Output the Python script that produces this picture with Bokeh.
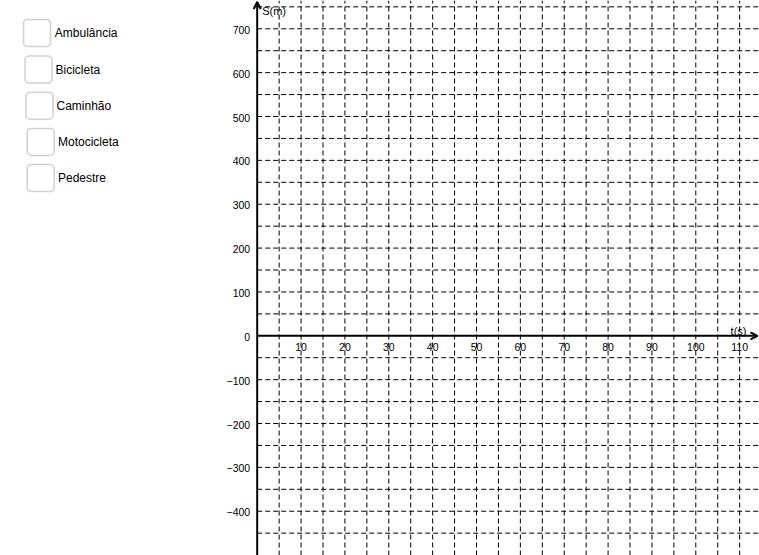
import numpy as np
from bokeh.plotting import figure
from bokeh.models import Range1d, BoxAnnotation, Arrow, OpenHead
from bokeh.embed import file_html
from bokeh.resources import INLINE
from bokeh.core.properties import value

# ---------------- data ----------------
vehicles = ["Ambulância", "Bicicleta", "Caminhão", "Motocicleta", "Pedestre"]
t_ticks = [10, 20, 30, 40, 50, 60, 70, 80, 90, 100, 110]
t_tick_labels = ["10", "20", "30", "40", "50", "60", "70", "80", "90", "100", "110"]
s_ticks = [-400, -300, -200, -100, 0, 100, 200, 300, 400, 500, 600, 700]
s_tick_labels = ["−400", "−300", "−200", "−100", "0", "100", "200", "300",
                 "400", "500", "600", "700"]
t_grid_step = 5      # s
s_grid_step = 50     # m
x_title = "t(s)"
y_title = "S(m)"

# ---------------- layout ----------------
W, H = 759, 555
PX_T = 4.386          # px per second
PX_S = 0.4386         # px per metre
X0, Y0 = 256.7, 335.3  # origin position inside the figure (px from left / top)
t_min, t_max = -X0 / PX_T, (W - X0) / PX_T
s_max, s_min = Y0 / PX_S, -(H - Y0) / PX_S


def fx(px):   # figure pixel x -> data t
    return (px - X0) / PX_T


def fy(py):   # figure pixel y (from top) -> data s
    return (Y0 - py) / PX_S


FONT = value("Liberation Sans")

p = figure(width=W, height=H, x_range=Range1d(t_min, t_max), y_range=Range1d(s_min, s_max),
           output_backend="svg", toolbar_location=None, x_axis_type=None, y_axis_type=None,
           min_border=0, min_border_left=0, min_border_right=0, min_border_top=0,
           min_border_bottom=0, outline_line_color=None, background_fill_color="white",
           border_fill_color="white")
p.xgrid.visible = False
p.ygrid.visible = False

# ---------------- grid ----------------
t_grid = np.arange(t_grid_step, t_max, t_grid_step)
s_grid = np.array([s for s in np.arange(-450, s_max + s_grid_step, s_grid_step)
                   if s != 0 and s_min < s < s_max])
p.segment(x0=t_grid, y0=s_min, x1=t_grid, y1=s_max, line_color="black",
          line_width=1, line_dash="5 3")
p.segment(x0=0, y0=s_grid, x1=t_max, y1=s_grid, line_color="black",
          line_width=1, line_dash="5 3")

# ---------------- axes ----------------
p.add_layout(Arrow(x_start=0, y_start=s_min, x_end=0, y_end=fy(1.5),
                   line_width=2, line_color="black",
                   end=OpenHead(size=7, line_width=2, line_color="black")))
p.add_layout(Arrow(x_start=0, y_start=0, x_end=fx(757), y_end=0,
                   line_width=2, line_color="black",
                   end=OpenHead(size=7, line_width=2, line_color="black")))

p.text(x=t_ticks, y=[0] * len(t_ticks), text=t_tick_labels, y_offset=11,
       text_align="center", text_baseline="middle", text_font=FONT,
       text_font_size="10.5px", text_color="black")
p.text(x=[0] * len(s_ticks), y=s_ticks, text=s_tick_labels, x_offset=-7, y_offset=1,
       text_align="right", text_baseline="middle", text_font=FONT,
       text_font_size="10.5px", text_color="black")

p.text(x=[t_max], y=[0], text=[x_title], x_offset=-13, y_offset=-5,
       text_align="right", text_baseline="middle", text_font=FONT,
       text_font_size="11px", text_color="black")
p.text(x=[0], y=[s_max], text=[y_title], x_offset=5, y_offset=10.5,
       text_align="left", text_baseline="middle", text_font=FONT,
       text_font_size="11px", text_color="black")

# ---------------- check boxes (UI) ----------------
box_left = [23, 24.5, 25.5, 26.7, 26.7]
box_top = [19, 55.5, 91.7, 128, 164]
box_size = 27
label_x = [54.3, 55, 56, 57.5, 57.5]
for i, name in enumerate(vehicles):
    l, t = box_left[i], box_top[i]
    p.add_layout(BoxAnnotation(left=fx(l), right=fx(l + box_size), top=fy(t),
                               bottom=fy(t + box_size), fill_color="white", fill_alpha=1,
                               line_color="#6e6e6e", line_width=1.6, border_radius=4,
                               editable=False))
p.text(x=[fx(v) for v in label_x], y=[fy(t + box_size / 2) for t in box_top],
       text=vehicles, text_align="left", text_baseline="middle", text_font=FONT,
       text_font_size="12px", text_color="black")

open("out.html", "w").write(file_html(p, INLINE))
